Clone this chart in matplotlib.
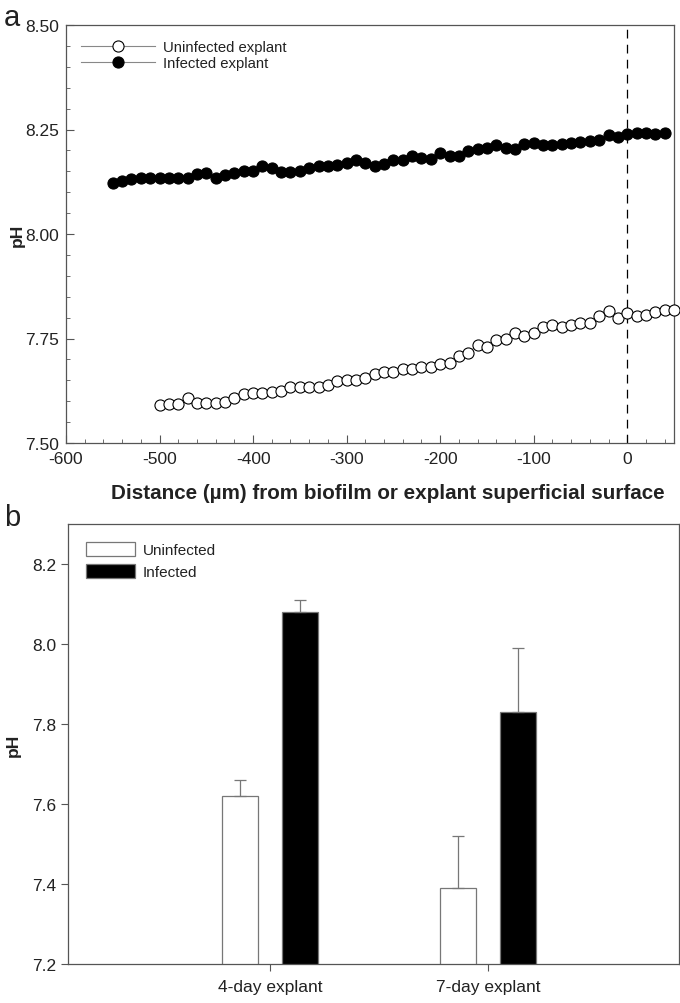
import matplotlib.pyplot as plt
import numpy as np
from matplotlib.patches import Patch
from matplotlib.lines import Line2D
from matplotlib.ticker import MultipleLocator, FormatStrFormatter

plt.rcParams['font.family'] = ['Liberation Sans', 'DejaVu Sans']
plt.rcParams['axes.unicode_minus'] = False

# panel a: pH profiles vs distance (um)
dist_inf = np.arange(-550, 41, 10)
ph_inf = [8.123, 8.127, 8.131, 8.135, 8.134, 8.135, 8.135, 8.134, 8.134,
          8.143, 8.145, 8.135, 8.142, 8.146, 8.150, 8.151, 8.162, 8.158,
          8.149,
          8.149, 8.151, 8.159, 8.163, 8.163, 8.166, 8.171, 8.178, 8.169, 8.163,
          8.167, 8.177, 8.178, 8.186, 8.182, 8.179, 8.194, 8.187, 8.187, 8.198,
          8.203,
          8.206, 8.213, 8.206, 8.203, 8.215, 8.218, 8.214, 8.213, 8.215, 8.218,
          8.219, 8.222, 8.225, 8.238, 8.233, 8.239, 8.242, 8.242, 8.239, 8.242]

dist_uninf = np.arange(-500, 51, 10)
ph_uninf = [7.591, 7.593, 7.593, 7.608, 7.595, 7.595, 7.595, 7.597, 7.608, 7.617,
            7.619, 7.619, 7.621, 7.625, 7.633, 7.633, 7.633, 7.635, 7.639,
            7.648, 7.651, 7.651, 7.656, 7.665, 7.670,
            7.670, 7.678, 7.676, 7.682, 7.682, 7.690, 7.692, 7.707, 7.715, 7.735,
            7.730, 7.746, 7.748, 7.762, 7.756, 7.763, 7.778, 7.783, 7.778, 7.783,
            7.787, 7.787, 7.803, 7.815, 7.800, 7.811, 7.804, 7.806, 7.814, 7.818,
            7.818]

# panel b: mean pH with error
groups = ['4-day explant', '7-day explant']
ph_uninf_bar = [7.62, 7.39]
err_uninf_bar = [0.04, 0.13]
ph_inf_bar = [8.08, 7.83]
err_inf_bar = [0.03, 0.16]

fig = plt.figure(figsize=(6.8, 10.04), dpi=100)
frame = '#555555'
txt = '#222222'

# ---- panel a ----
ax1 = fig.add_axes([66/680, 1-444/1004, 608/680, 418/1004])
ax1.plot(dist_uninf, ph_uninf, '-', color='#888888', lw=0.8, marker='o', ms=8,
         mfc='white', mec='black', mew=0.8, clip_on=False, zorder=3)
ax1.plot(dist_inf, ph_inf, '-', color='#888888', lw=0.8, marker='o', ms=8,
         mfc='black', mec='black', mew=0.8, clip_on=False, zorder=3)
ax1.axvline(0, color='black', lw=0.9, ls=(0, (7, 5)), zorder=2)
ax1.set_xlim(-600, 50)
ax1.set_ylim(7.5, 8.5)
ax1.xaxis.set_major_locator(MultipleLocator(100))
ax1.xaxis.set_minor_locator(MultipleLocator(20))
ax1.yaxis.set_major_locator(MultipleLocator(0.25))
ax1.yaxis.set_minor_locator(MultipleLocator(0.05))
ax1.yaxis.set_major_formatter(FormatStrFormatter('%.2f'))
ax1.tick_params(which='both', direction='in', colors=frame, labelcolor=txt,
                labelsize=12.5, top=False, right=False)
ax1.tick_params(which='major', length=6)
ax1.tick_params(which='minor', length=3)
ax1.tick_params(axis='x', pad=6)
ax1.tick_params(axis='y', pad=5)
for s in ax1.spines.values():
    s.set_color(frame)
    s.set_linewidth(0.9)
ax1.set_ylabel('pH', fontsize=12.5, fontweight='bold', color=txt)
ax1.yaxis.set_label_coords(-0.068, 0.5)
ax1.set_xlabel('Distance (\u00b5m) from biofilm or explant superficial surface',
               fontsize=14.9, fontweight='bold', color=txt)
ax1.xaxis.set_label_coords(0.53, -0.095)
leg_handles = [
    Line2D([], [], color='#888888', lw=0.8, marker='o', ms=8, mfc='white',
           mec='black', mew=0.8),
    Line2D([], [], color='#888888', lw=0.8, marker='o', ms=8, mfc='black',
           mec='black', mew=0.8),
]
ax1.legend(leg_handles, ['Uninfected explant', 'Infected explant'], loc='upper left',
           frameon=False, fontsize=10.7, handlelength=5, borderaxespad=0.6,
           labelspacing=0.15, handletextpad=0.5, labelcolor=txt)
fig.text(4/680, 1-18/1004, 'a', fontsize=21, color=txt, va='center', ha='left')

# ---- panel b ----
ax2 = fig.add_axes([68/680, 1-965/1004, 611/680, 440/1004])
x = np.arange(len(groups))
w = 0.165
off = 0.1376
ekw = dict(ecolor='#777777', elinewidth=0.9, capsize=4, capthick=0.9)
ax2.bar(x - off, ph_uninf_bar, w, color='white', edgecolor='#777777', lw=0.9,
        yerr=[[0] * len(groups), err_uninf_bar], error_kw=ekw, zorder=2)
ax2.bar(x + off, ph_inf_bar, w, color='black', edgecolor='#777777', lw=0.9,
        yerr=[[0] * len(groups), err_inf_bar], error_kw=ekw, zorder=2)
ax2.set_xlim(-0.927, 1.876)
ax2.set_ylim(7.2, 8.3)
ax2.set_xticks(x)
ax2.set_xticklabels(groups)
ax2.yaxis.set_major_locator(MultipleLocator(0.2))
ax2.yaxis.set_major_formatter(FormatStrFormatter('%.1f'))
ax2.tick_params(direction='out', length=5, colors=frame, labelcolor=txt,
                labelsize=12.5)
ax2.tick_params(axis='x', pad=6)
for s in ax2.spines.values():
    s.set_color(frame)
    s.set_linewidth(0.9)
ax2.set_ylabel('pH', fontsize=12.5, fontweight='bold', color=txt)
ax2.yaxis.set_label_coords(-0.078, 0.5)
bar_handles = [Patch(facecolor='white', edgecolor='#777777', lw=0.9),
               Patch(facecolor='black', edgecolor='#777777', lw=0.9)]
ax2.legend(bar_handles, ['Uninfected', 'Infected'], loc='upper left', frameon=False,
           fontsize=11, handlelength=3.2, handleheight=1.0, borderaxespad=0.8,
           labelspacing=0.45, handletextpad=0.5, labelcolor=txt)
fig.text(4/680, 1-518/1004, 'b', fontsize=21, color=txt, va='center', ha='left')

fig.savefig('out.png', dpi=100)
